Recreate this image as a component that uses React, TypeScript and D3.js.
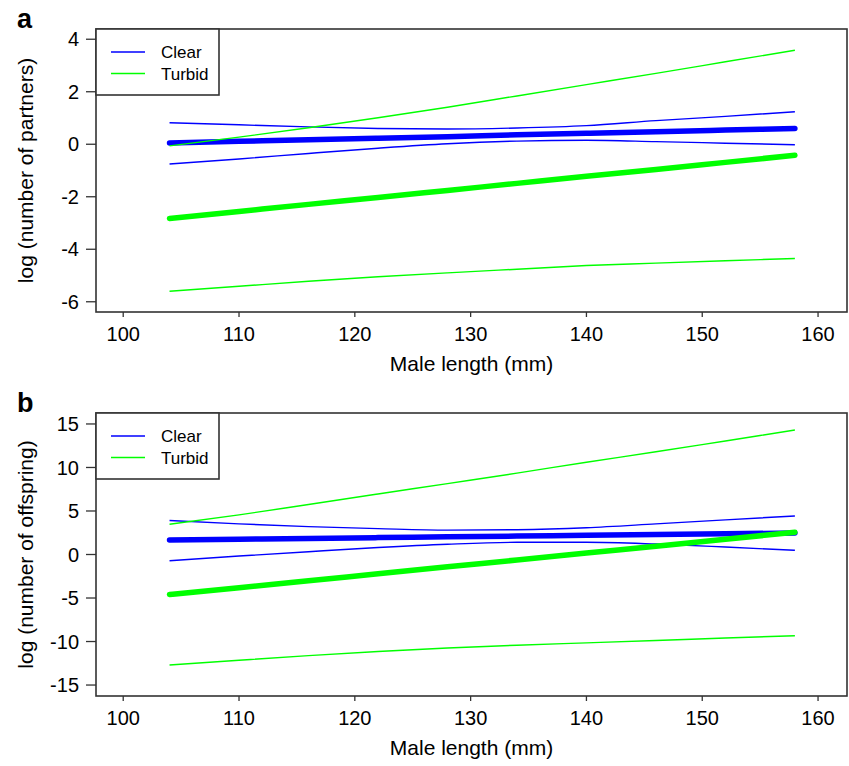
import * as d3 from 'd3';

// male length values where the fitted lines were evaluated
const lengths = [104, 110, 116, 122, 128, 134, 140, 146, 152, 158];

// panel a: log (number of partners)
const partnersClearFit = [0.05, 0.11, 0.17, 0.23, 0.29, 0.36, 0.42, 0.48, 0.54, 0.6];
const partnersClearUpper = [0.82, 0.74, 0.66, 0.6, 0.58, 0.62, 0.71, 0.9, 1.06, 1.24];
const partnersClearLower = [-0.75, -0.56, -0.35, -0.15, 0.02, 0.12, 0.15, 0.1, 0.04, -0.02];
const partnersTurbidFit = [-2.83, -2.56, -2.29, -2.03, -1.76, -1.49, -1.22, -0.96, -0.69, -0.42];
const partnersTurbidUpper = [-0.06, 0.27, 0.63, 1.01, 1.41, 1.84, 2.27, 2.7, 3.14, 3.58];
const partnersTurbidLower = [-5.6, -5.41, -5.22, -5.05, -4.9, -4.76, -4.62, -4.53, -4.44, -4.35];

// panel b: log (number of offspring)
const offspringClearFit = [1.67, 1.76, 1.85, 1.94, 2.03, 2.12, 2.2, 2.29, 2.38, 2.47];
const offspringClearUpper = [3.9, 3.52, 3.2, 2.97, 2.8, 2.85, 3.08, 3.52, 3.98, 4.43];
const offspringClearLower = [-0.71, -0.18, 0.32, 0.8, 1.18, 1.4, 1.4, 1.2, 0.86, 0.48];
const offspringTurbidFit = [-4.6, -3.81, -3.01, -2.22, -1.42, -0.63, 0.17, 0.96, 1.76, 2.55];
const offspringTurbidUpper = [3.47, 4.55, 5.75, 6.95, 8.15, 9.35, 10.6, 11.8, 13.05, 14.3];
const offspringTurbidLower = [-12.7, -12.15, -11.62, -11.15, -10.75, -10.42, -10.15, -9.88, -9.6, -9.33];

const xTicks = [100, 110, 120, 130, 140, 150, 160];
const partnersTicks = [-6, -4, -2, 0, 2, 4];
const offspringTicks = [-15, -10, -5, 0, 5, 10, 15];
const legendLabels = ['Clear', 'Turbid'];

const BLUE = '#0000ff';
const GREEN = '#00ff00';
const FONT = '"Liberation Sans", Arial, sans-serif';

type PanelProps = {
  letter: string;
  top: number;
  yDomain: [number, number];
  yTicks: number[];
  yTitle: string;
  clear: number[][]; // fit, upper, lower
  turbid: number[][];
};

function Panel({ letter, top, yDomain, yTicks, yTitle, clear, turbid }: PanelProps) {
  const left = 96, right = 847, h = 283;
  const bottom = top + h;

  const x = d3.scaleLinear().domain([97.65, 162.5]).range([left, right]);
  const y = d3.scaleLinear().domain(yDomain).range([bottom, top]);

  const line = d3.line<number>()
    .x((_, i) => x(lengths[i]))
    .y(d => y(d))
    .curve(d3.curveMonotoneX);

  const series = (vals: number[][], color: string) => (
    <g>
      <path d={line(vals[1]) || ''} fill="none" stroke={color} strokeWidth={1.4} />
      <path d={line(vals[2]) || ''} fill="none" stroke={color} strokeWidth={1.4} />
      <path d={line(vals[0]) || ''} fill="none" stroke={color} strokeWidth={5.5} strokeLinecap="round" />
    </g>
  );

  return (
    <g fontFamily={FONT}>
      <text x={17} y={top - 1} fontSize={27} fontWeight="bold">{letter}</text>

      {series(clear, BLUE)}
      {series(turbid, GREEN)}

      <rect x={left} y={top} width={right - left} height={h} fill="none" stroke="#333" strokeWidth={1.6} />

      {/* y axis */}
      {yTicks.map(t => (
        <g key={t}>
          <line x1={left - 10} x2={left} y1={y(t)} y2={y(t)} stroke="#333" strokeWidth={1.3} />
          <text x={79} y={y(t)} dy="0.36em" textAnchor="end" fontSize={20}>{t}</text>
        </g>
      ))}
      <text
        transform={`translate(33,${(top + bottom) / 2}) rotate(-90)`}
        textAnchor="middle"
        fontSize={21}
      >{yTitle}</text>

      {/* x axis */}
      {xTicks.map(t => (
        <g key={t}>
          <line x1={x(t)} x2={x(t)} y1={bottom} y2={bottom + 5} stroke="#333" strokeWidth={1.3} />
          <text x={x(t)} y={bottom + 29} textAnchor="middle" fontSize={20}>{t}</text>
        </g>
      ))}
      <text x={(left + right) / 2} y={bottom + 59} textAnchor="middle" fontSize={21}>Male length (mm)</text>

      {/* legend */}
      <rect x={left} y={top} width={123} height={66} fill="white" stroke="#333" strokeWidth={1.6} />
      {legendLabels.map((lab, i) => (
        <g key={lab}>
          <line x1={111} x2={145} y1={top + 23 + i * 21.5} y2={top + 23 + i * 21.5}
            stroke={i === 0 ? BLUE : GREEN} strokeWidth={1.4} />
          <text x={161} y={top + 23 + i * 21.5} dy="0.36em" fontSize={17}>{lab}</text>
        </g>
      ))}
    </g>
  );
}

export default function App() {
  return (
    <svg width={849} height={766} style={{ position: 'absolute', left: 0, top: 0, background: 'white' }}>
      <Panel
        letter="a"
        top={29}
        yDomain={[-6.39, 4.39]}
        yTicks={partnersTicks}
        yTitle="log (number of partners)"
        clear={[partnersClearFit, partnersClearUpper, partnersClearLower]}
        turbid={[partnersTurbidFit, partnersTurbidUpper, partnersTurbidLower]}
      />
      <Panel
        letter="b"
        top={413}
        yDomain={[-16.26, 16.26]}
        yTicks={offspringTicks}
        yTitle="log (number of offspring)"
        clear={[offspringClearFit, offspringClearUpper, offspringClearLower]}
        turbid={[offspringTurbidFit, offspringTurbidUpper, offspringTurbidLower]}
      />
    </svg>
  );
}
